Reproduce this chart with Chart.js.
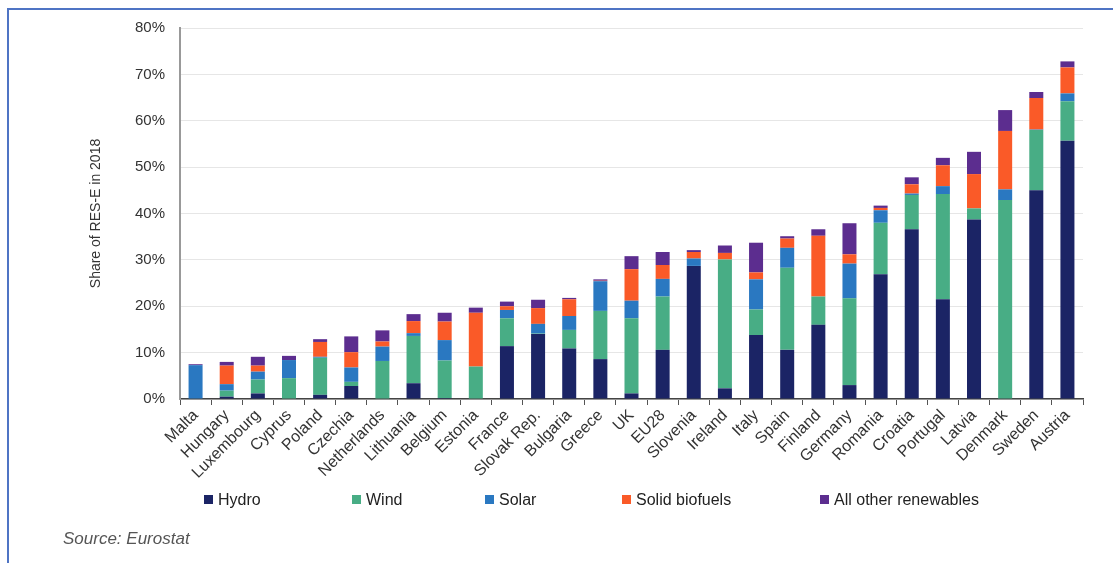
<!DOCTYPE html>
<html>
<head>
<meta charset="utf-8">
<script src="https://cdn.jsdelivr.net/npm/chart.js@4/dist/chart.umd.min.js"></script>
<style>
  html, body { margin: 0; padding: 0; background: #fff; }
  #wrap { position: relative; width: 1113px; height: 563px; overflow: hidden; font-family: "Liberation Sans", Arial, sans-serif; }
  #frame { position: absolute; left: 7px; top: 8px; width: 1200px; height: 700px; border-top: 2px solid #4f74c4; border-left: 2px solid #4f74c4; }
  #chart { position: absolute; left: 0; top: 0; }
  #legend { position: absolute; left: 0; top: 490px; width: 1113px; height: 20px; }
  .item { position: absolute; top: 0; font-size: 16px; color: #222; line-height: 20px; white-space: nowrap; }
  .item span { display: inline-block; width: 9px; height: 9px; margin-right: 5px; vertical-align: 1px; }
  #source { position: absolute; left: 63px; top: 529px; font-size: 17px; font-style: italic; color: #555; }
</style>
</head>
<body>
<div id="wrap">
  <div id="frame"></div>
  <canvas id="chart" width="1113" height="563"></canvas>
  <div id="legend"></div>
  <div id="source">Source: Eurostat</div>
</div>
<script>
// Dữ liệu: tỷ trọng điện tái tạo (RES-E) năm 2018, % theo nguồn
const countries = ['Malta', 'Hungary', 'Luxembourg', 'Cyprus', 'Poland', 'Czechia', 'Netherlands', 'Lithuania',
    'Belgium', 'Estonia', 'France', 'Slovak Rep.', 'Bulgaria', 'Greece', 'UK', 'EU28', 'Slovenia', 'Ireland',
    'Italy', 'Spain', 'Finland', 'Germany', 'Romania', 'Croatia', 'Portugal', 'Latvia', 'Denmark', 'Sweden', 'Austria'];
const hydro = [0, 0.5, 1.2, 0, 0.9, 2.8, 0, 3.4, 0.2, 0, 11.4, 14.0, 10.9, 8.6, 1.2, 10.6, 28.7, 2.3, 13.8, 10.6, 16.0, 3.0, 26.9, 36.6, 21.5, 38.7, 0.1, 45.0, 55.7];
const wind = [0, 1.3, 3.0, 4.5, 8.0, 0.9, 8.2, 10.2, 8.1, 7.0, 6.0, 0.1, 4.0, 10.4, 16.2, 11.5, 0, 27.8, 5.5, 17.7, 6.1, 18.7, 11.1, 7.4, 22.7, 2.4, 42.8, 13.0, 8.5];
const solar = [7.3, 1.4, 1.7, 3.9, 0.2, 3.1, 3.1, 0.6, 4.4, 0, 1.8, 2.1, 3.0, 6.4, 3.8, 3.8, 1.6, 0, 6.5, 4.3, 0, 7.5, 2.7, 0.3, 1.7, 0, 2.3, 0.1, 1.7];
const solidBiofuels = [0, 4.0, 1.3, 0, 3.2, 3.3, 1.1, 2.6, 4.0, 11.6, 0.8, 3.4, 3.6, 0.1, 6.8, 3.0, 1.4, 1.4, 1.5, 2.0, 13.1, 2.0, 0.5, 2.0, 4.5, 7.4, 12.6, 6.8, 5.6];
const otherRenewables = [0.2, 0.8, 1.9, 0.9, 0.6, 3.4, 2.4, 1.5, 1.9, 1.1, 1.0, 1.8, 0.3, 0.3, 2.8, 2.8, 0.4, 1.6, 6.4, 0.5, 1.4, 6.7, 0.5, 1.5, 1.6, 4.8, 4.5, 1.3, 1.3];
const yTicks = [0, 10, 20, 30, 40, 50, 60, 70, 80];

const series = [
    { label: 'Hydro', data: hydro, color: '#1b2465' },
    { label: 'Wind', data: wind, color: '#48ad85' },
    { label: 'Solar', data: solar, color: '#2a78c1' },
    { label: 'Solid biofuels', data: solidBiofuels, color: '#fa5a28' },
    { label: 'All other renewables', data: otherRenewables, color: '#5c2d8f' }
];
const legendX = [204, 352, 485, 622, 820]; // vị trí chú thích như bản gốc

const font = "'Liberation Sans', Arial, sans-serif";

new Chart(document.getElementById('chart'), {
    type: 'bar',
    data: {
        labels: countries,
        datasets: series.map(s => ({
            label: s.label,
            data: s.data,
            backgroundColor: s.color,
            borderWidth: 0,
            categoryPercentage: 1,
            barPercentage: 0.45
        }))
    },
    options: {
        responsive: false,
        animation: false,
        layout: { padding: { left: 84, right: 30, top: 28, bottom: 0 } },
        plugins: { legend: { display: false }, tooltip: { enabled: false } },
        scales: {
            x: {
                stacked: true,
                afterFit: s => { s.height = 164; },
                grid: { drawOnChartArea: false, drawTicks: true, tickLength: 6, color: '#555', offset: true },
                border: { color: '#444', width: 1.5 },
                ticks: { minRotation: 45, maxRotation: 45, autoSkip: false, padding: 1, color: '#333', font: { family: font, size: 16 } }
            },
            y: {
                stacked: true,
                min: 0,
                max: 80,
                afterFit: s => { s.width = 96; },
                afterBuildTicks: s => { s.ticks = yTicks.map(v => ({ value: v })); },
                grid: { color: '#e6e6e6', drawTicks: false },
                border: { color: '#999', width: 2 },
                ticks: { padding: 15, color: '#333', font: { family: font, size: 15 }, callback: v => v + '%' },
                title: { display: true, text: 'Share of RES-E in 2018', color: '#333', padding: 4, font: { family: font, size: 14 } }
            }
        }
    }
});

// Chú thích tự vẽ bằng HTML
const legendEl = document.getElementById('legend');
series.forEach((s, i) => {
    const d = document.createElement('div');
    d.className = 'item';
    d.style.left = legendX[i] + 'px';
    d.innerHTML = '<span style="background:' + s.color + '"></span>' + s.label;
    legendEl.appendChild(d);
});
</script>
</body>
</html>
